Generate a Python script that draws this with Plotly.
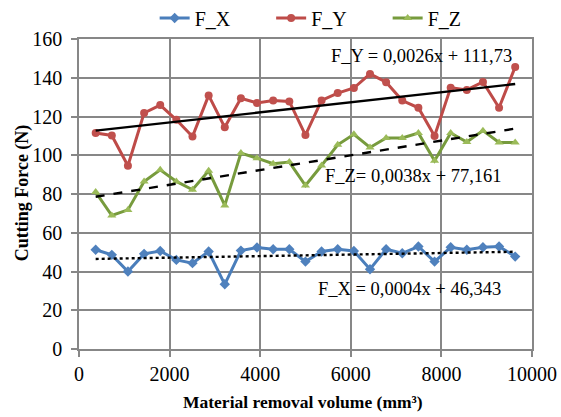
import plotly.graph_objects as go

# Material removal volume (mm³) at each measurement
volume = [368, 724, 1080, 1437, 1793, 2149, 2505, 2862, 3218, 3574, 3930, 4286,
          4643, 4999, 5355, 5711, 6068, 6424, 6780, 7136, 7492, 7849, 8205, 8561,
          8917, 9273, 9629]

# Cutting force components (N)
f_x = [51.2, 48.6, 40.0, 49.1, 50.6, 46.0, 44.3, 50.3, 33.4, 50.8, 52.4, 51.5,
       51.5, 45.1, 50.3, 51.5, 50.6, 41.2, 51.5, 49.4, 52.9, 45.1, 52.5, 51.2,
       52.5, 52.9, 47.7]
f_y = [111.5, 110.2, 94.6, 121.8, 125.9, 118.3, 109.7, 130.9, 114.4, 129.4, 127.0, 128.2,
       127.8, 110.4, 128.3, 132.1, 134.7, 142.0, 137.7, 128.2, 124.5, 109.9, 134.9, 133.7,
       137.8, 124.5, 145.6]
f_z = [81.0, 68.9, 71.8, 86.5, 92.5, 86.5, 82.2, 92.0, 74.1, 101.1, 98.5, 95.6,
       96.5, 84.4, 94.7, 105.4, 110.8, 104.0, 108.9, 108.9, 111.5, 97.2, 111.5, 106.8,
       112.7, 106.6, 106.6]

# Linear trend coefficients (slope, intercept)
trend_x = (0.0004, 46.343)
trend_y = (0.0026, 111.73)
trend_z = (0.0038, 77.161)

FONT = "'Liberation Serif', 'DejaVu Serif', serif"
GRID = "#878787"

fig = go.Figure()

series = [
    ("F_X", f_x, "#4A7EBB", "#4F81BD", "diamond", 8),
    ("F_Y", f_y, "#BE4B48", "#C0504D", "circle", 8),
    ("F_Z", f_z, "#779B3D", "#9BBB59", "triangle-up", 8),
]
for name, vals, lc, mc, sym, ms in series:
    fig.add_trace(go.Scatter(
        x=volume, y=vals, name=name, mode="lines+markers",
        line=dict(color=lc, width=3),
        marker=dict(color=mc, symbol=sym, size=ms, line=dict(width=0)),
    ))

# Trend lines over the measured range
x_ends = [volume[0], volume[-1]]
for (m, b), dash in [(trend_y, "solid"), (trend_z, "dash"), (trend_x, "dot")]:
    fig.add_trace(go.Scatter(
        x=x_ends, y=[m * v + b for v in x_ends], mode="lines",
        line=dict(color="black", width=2.4, dash=dash),
        showlegend=False, hoverinfo="skip",
    ))

eq_font = dict(family=FONT, size=18.5, color="black")
annotations = [
    dict(x=7563, y=151.0, xref="x", yref="y", text="F_Y = 0,0026x + 111,73",
         showarrow=False, font=eq_font),
    dict(x=7387, y=89.4, xref="x", yref="y", text="F_Z= 0,0038x + 77,161",
         showarrow=False, font=eq_font),
    dict(x=7300, y=31.0, xref="x", yref="y", text="F_X = 0,0004x + 46,343",
         showarrow=False, font=eq_font),
    dict(x=-0.124, y=0.505, xref="paper", yref="paper", xanchor="center", yanchor="middle",
         text="<b>Cutting Force (N)</b>", textangle=-90, showarrow=False,
         font=dict(family=FONT, size=18, color="black")),
    dict(x=0.495, y=-0.171, xref="paper", yref="paper", xanchor="center", yanchor="middle",
         text="<b>Material removal volume (mm³)</b>",
         showarrow=False, font=dict(family=FONT, size=17.5, color="black")),
]

fig.update_layout(
    width=561, height=417,
    margin=dict(l=79, r=29, t=39, b=68, autoexpand=False),
    paper_bgcolor="white", plot_bgcolor="white",
    font=dict(family=FONT, size=16, color="black"),
    annotations=annotations,
    legend=dict(orientation="h", x=0.167, xanchor="left", y=1.005, yanchor="bottom",
                font=dict(family=FONT, size=20), entrywidth=71.5, entrywidthmode="pixels",
                bgcolor="rgba(0,0,0,0)"),
    xaxis=dict(range=[0, 10000], dtick=2000, tick0=0, tickformat="d", showgrid=True,
               gridcolor=GRID, gridwidth=1.5, showline=True, linecolor=GRID, linewidth=1.5,
               mirror=True, ticks="outside", ticklen=6, tickcolor=GRID, tickwidth=1.5,
               zeroline=False, tickfont=dict(family=FONT, size=20)),
    yaxis=dict(range=[0, 160], dtick=20, tick0=0, showgrid=True, gridcolor=GRID,
               gridwidth=1.5, showline=True, linecolor=GRID, linewidth=1.5, mirror=True,
               ticks="outside", ticklen=6, tickcolor=GRID, tickwidth=1.5, zeroline=False,
               ticklabelstandoff=5, tickfont=dict(family=FONT, size=20)),
)

fig.write_html("out.html")
